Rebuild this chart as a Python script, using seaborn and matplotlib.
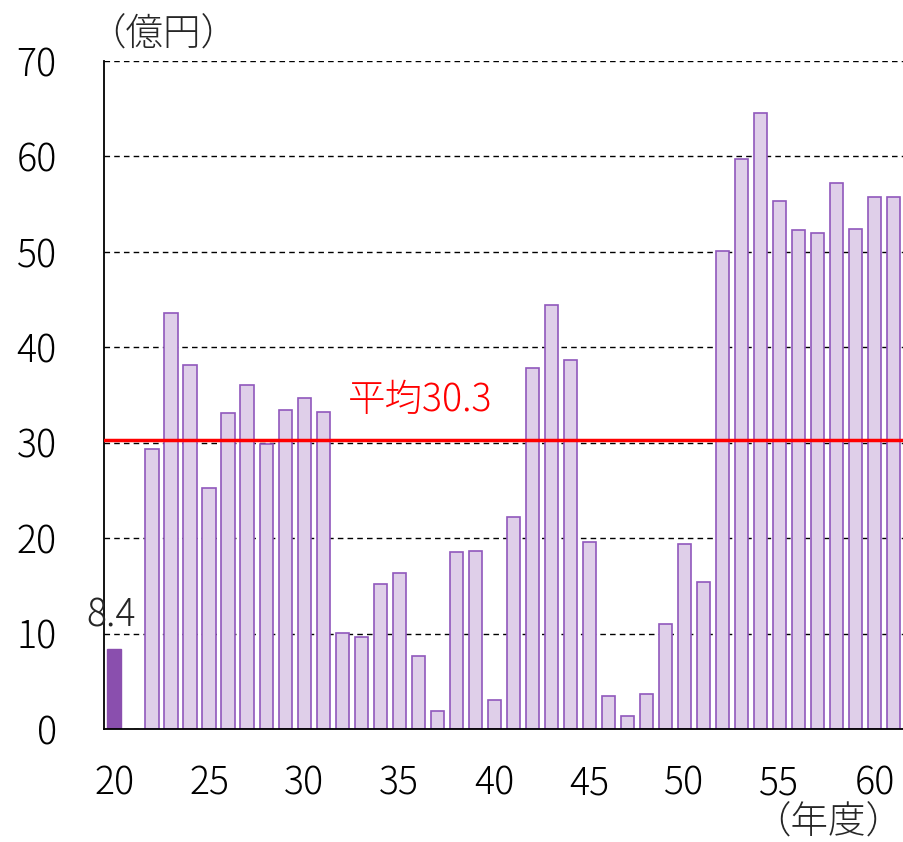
import matplotlib
matplotlib.use('Agg')
import matplotlib.pyplot as plt
import seaborn as sns
import pandas as pd

# 年度 and 金額 (億円); year 21 has no bar
first_year = [20]
first_value = [8.4]

years = list(range(22, 62))
values = [29.3, 43.6, 38.1, 25.3, 33.1, 36.1, 29.9, 33.4, 34.7, 33.2,
          10.1, 9.6, 15.2, 16.3, 7.6, 1.85, 18.6, 18.7, 3.0, 22.2,
          37.8, 44.4, 38.7, 19.6, 3.5, 1.4, 3.7, 11.0, 19.4, 15.4,
          50.1, 59.7, 64.6, 55.3, 52.3, 52.0, 57.2, 52.4, 55.8, 55.8]
average = 30.3

yticks = list(range(0, 71, 10))
xticks = list(range(20, 61, 5))

sns.set_theme(style='white')
plt.rcParams['font.family'] = ['Noto Sans CJK JP', 'DejaVu Sans']
plt.rcParams['font.weight'] = 'light'

df_first = pd.DataFrame({'year': first_year, 'value': first_value})
df = pd.DataFrame({'year': years, 'value': values})

fig = plt.figure(figsize=(9.04, 8.42), dpi=100)
ax = fig.add_axes([104 / 904, 1 - 729 / 842, 799 / 904, 668 / 842])

sns.barplot(data=df_first, x='year', y='value', native_scale=True, width=0.72,
            color='#8A4FAE', saturation=1, edgecolor='#8A4FAE', linewidth=1, ax=ax)
sns.barplot(data=df, x='year', y='value', native_scale=True, width=0.7,
            color='#DFCFE9', saturation=1, edgecolor='#9058BC', linewidth=1.2, ax=ax)

ax.axhline(average, color='red', lw=2.5, zorder=5)

ax.set_xlim(19.47, 61.5)
ax.set_ylim(0, 70)
ax.set_xticks(xticks)
ax.set_yticks(yticks)
ax.tick_params(axis='both', length=0, labelsize=27, colors='black')
ax.tick_params(axis='x', pad=25)
ax.tick_params(axis='y', pad=34)
ax.set_xlabel('')
ax.set_ylabel('')

ax.set_axisbelow(True)
ax.yaxis.grid(True, linestyle=(0, (4, 3)), color='black', lw=1)
ax.xaxis.grid(False)
for s in ['top', 'right']:
    ax.spines[s].set_visible(False)
for s in ['left', 'bottom']:
    ax.spines[s].set_color('black')
    ax.spines[s].set_linewidth(1.3)

ax.text(19.85, 10.7, '8.4', fontsize=27, ha='center', va='baseline')
ax.text(32.3, 34.5, '平均30.3', fontsize=27, color='red', ha='left', va='center')
fig.text(88 / 904, 1 - 35 / 842, '（億円）', fontsize=27, ha='left', va='center')
fig.text(903 / 904, 1 - 823 / 842, '（年度）', fontsize=27, ha='right', va='center')

fig.savefig('out.png', dpi=100)
